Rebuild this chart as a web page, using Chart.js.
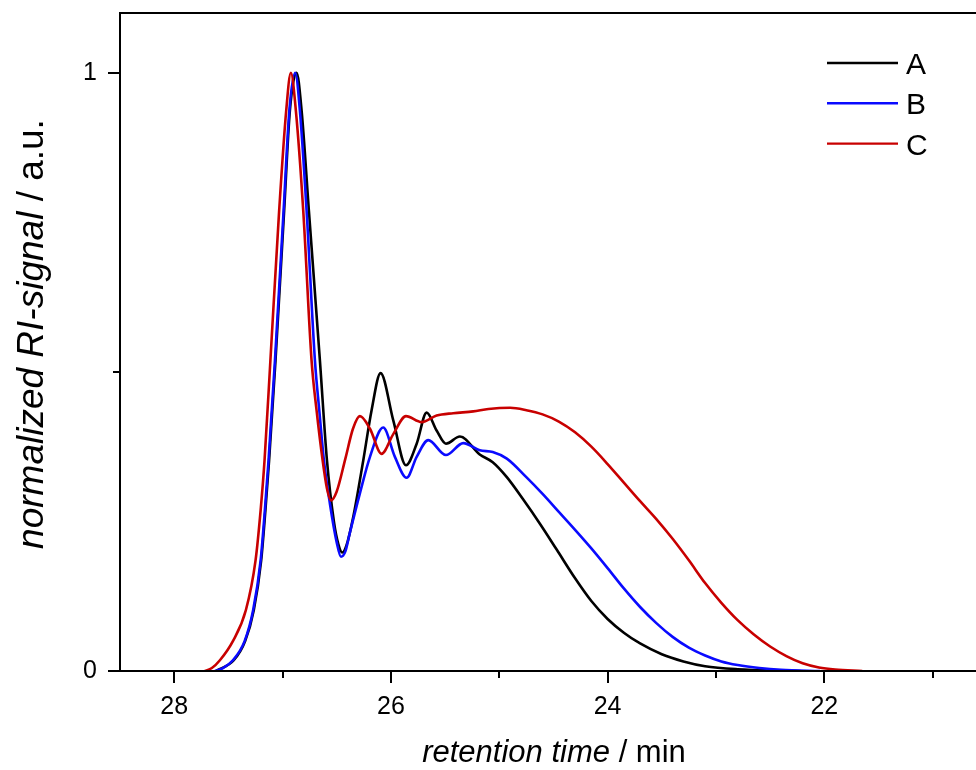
<!DOCTYPE html>
<html>
<head>
<meta charset="utf-8">
<script src="https://cdn.jsdelivr.net/npm/chart.js@4.4.1/dist/chart.umd.min.js"></script>
<style>
  html, body { margin: 0; padding: 0; background: #fff; }
  #chart { display: block; }
</style>
</head>
<body>
<canvas id="chart" width="976" height="770"></canvas>
<script>
// retention time (min) and normalized RI signal
var timeA = [27.615, 27.45, 27.345, 27.265, 27.197, 27.158, 27.124, 27.065, 26.985, 26.932, 26.870, 26.824, 26.757, 26.655, 26.590, 26.526,
  26.485, 26.449, 26.41, 26.347, 26.255, 26.178, 26.095, 25.978, 25.861, 25.762, 25.670, 25.578, 25.492, 25.363, 25.18, 25.06,
  24.93, 24.78, 24.62, 24.47, 24.30, 24.15, 24.00, 23.85, 23.70, 23.50, 23.30, 23.10, 22.80, 22.40, 22.22];
var signalA = [0, 0.018, 0.05, 0.102, 0.185, 0.269, 0.352, 0.519, 0.770, 0.937, 1.0, 0.937, 0.770, 0.519, 0.352, 0.25,
  0.212, 0.198, 0.210, 0.258, 0.352, 0.436, 0.498, 0.419, 0.344, 0.380, 0.432, 0.402, 0.380, 0.392, 0.362, 0.349,
  0.324, 0.287, 0.245, 0.203, 0.155, 0.117, 0.087, 0.064, 0.046, 0.028, 0.016, 0.008, 0.003, 0.0005, 0];

var timeB = [27.623, 27.55, 27.458, 27.35, 27.271, 27.202, 27.163, 27.129, 27.070, 26.990, 26.937, 26.883, 26.840, 26.778, 26.701, 26.661,
  26.618, 26.563, 26.50, 26.461, 26.42, 26.38, 26.286, 26.193, 26.071, 25.963, 25.855, 25.762, 25.655, 25.492, 25.332, 25.18,
  25.06, 24.93, 24.75, 24.60, 24.45, 24.30, 24.15, 24.00, 23.85, 23.70, 23.55, 23.40, 23.25, 23.10, 22.95, 22.80, 22.60, 22.40, 22.04];
var signalB = [0, 0.005, 0.018, 0.05, 0.102, 0.185, 0.269, 0.352, 0.519, 0.770, 0.937, 1.0, 0.937, 0.770, 0.519, 0.436,
  0.352, 0.28, 0.215, 0.191, 0.200, 0.230, 0.297, 0.358, 0.407, 0.358, 0.323, 0.358, 0.386, 0.361, 0.381, 0.369,
  0.366, 0.355, 0.324, 0.296, 0.266, 0.236, 0.205, 0.172, 0.138, 0.107, 0.080, 0.057, 0.039, 0.026, 0.016, 0.010, 0.005, 0.002, 0];

var timeC = [27.717, 27.652, 27.578, 27.458, 27.338, 27.249, 27.202, 27.166, 27.112, 27.031, 26.966, 26.923, 26.877, 26.809, 26.732, 26.686,
  26.630, 26.59, 26.553, 26.50, 26.42, 26.35, 26.286, 26.193, 26.086, 25.978, 25.861, 25.716, 25.578, 25.425, 25.24, 25.10,
  24.90, 24.75, 24.60, 24.45, 24.30, 24.15, 24.00, 23.85, 23.70, 23.55, 23.40, 23.25, 23.10, 22.95, 22.80, 22.65, 22.50, 22.35,
  22.20, 22.05, 21.90, 21.65];
var signalC = [0, 0.005, 0.018, 0.05, 0.102, 0.185, 0.269, 0.352, 0.519, 0.770, 0.937, 1.0, 0.937, 0.770, 0.519, 0.436,
  0.352, 0.305, 0.285, 0.300, 0.355, 0.405, 0.426, 0.405, 0.363, 0.396, 0.426, 0.416, 0.427, 0.431, 0.434, 0.438,
  0.440, 0.436, 0.429, 0.417, 0.399, 0.375, 0.346, 0.315, 0.284, 0.254, 0.221, 0.185, 0.147, 0.114, 0.085, 0.061, 0.041, 0.025,
  0.013, 0.006, 0.0025, 0];

var seriesNames = ['A', 'B', 'C'];
var seriesColors = ['#000000', '#0a0aff', '#c80000'];

var majorTimeTicks = [28, 26, 24, 22];
var minorTimeTicks = [27, 25, 23, 21];
var majorSignalTicks = [0, 1];
var minorSignalTicks = [0.5];

var FONT = "Arial, 'Liberation Sans', sans-serif";

function toPoints(xs, ys) {
  var pts = [];
  for (var i = 0; i < xs.length; i++) pts.push({ x: xs[i], y: ys[i] });
  return pts;
}

// draws a title made of an italic quantity and an upright unit, centred on (0,0)
function mixedTitle(ctx, quantity, unit, size) {
  ctx.font = 'italic ' + size + 'px ' + FONT;
  var w1 = ctx.measureText(quantity).width;
  ctx.font = size + 'px ' + FONT;
  var w2 = ctx.measureText(unit).width;
  var x0 = -(w1 + w2) / 2;
  ctx.font = 'italic ' + size + 'px ' + FONT;
  ctx.fillText(quantity, x0, 0);
  ctx.font = size + 'px ' + FONT;
  ctx.fillText(unit, x0 + w1, 0);
}

// frame, tick marks, axis titles and legend
var decor = {
  id: 'decor',
  afterDraw: function (chart) {
    var ctx = chart.ctx, a = chart.chartArea;
    var xs = chart.scales.x, ys = chart.scales.y;
    ctx.save();
    ctx.strokeStyle = '#000';
    ctx.lineWidth = 2;
    ctx.beginPath();
    ctx.moveTo(a.left, a.top); ctx.lineTo(a.right, a.top);
    ctx.moveTo(a.left, a.top - 1); ctx.lineTo(a.left, a.bottom + 1);
    ctx.moveTo(a.left, a.bottom); ctx.lineTo(a.right, a.bottom);
    xs.ticks.forEach(function (t) {
      var px = Math.round(xs.getPixelForValue(t.value));
      var len = majorTimeTicks.indexOf(t.value) >= 0 ? 12 : 7;
      ctx.moveTo(px, a.bottom); ctx.lineTo(px, a.bottom + len);
    });
    ys.ticks.forEach(function (t) {
      var py = Math.round(ys.getPixelForValue(t.value));
      var len = majorSignalTicks.indexOf(t.value) >= 0 ? 12 : 7;
      ctx.moveTo(a.left, py); ctx.lineTo(a.left - len, py);
    });
    ctx.stroke();

    ctx.fillStyle = '#000';
    ctx.textBaseline = 'alphabetic';
    ctx.textAlign = 'left';

    ctx.save();
    ctx.translate(554, 762);
    mixedTitle(ctx, 'retention time', ' / min', 31);
    ctx.restore();

    ctx.save();
    ctx.translate(43, 334);
    ctx.rotate(-Math.PI / 2);
    mixedTitle(ctx, 'normalized RI-signal', ' / a.u.', 37);
    ctx.restore();

    // legend
    ctx.font = '30px ' + FONT;
    for (var i = 0; i < seriesNames.length; i++) {
      var ly = 63 + i * 40.3;
      ctx.strokeStyle = seriesColors[i];
      ctx.lineWidth = 2.4;
      ctx.beginPath();
      ctx.moveTo(827, ly); ctx.lineTo(898, ly);
      ctx.stroke();
      ctx.fillText(seriesNames[i], 906, ly + 11);
    }
    ctx.restore();
  }
};

var datasets = [
  { label: seriesNames[0], data: toPoints(timeA, signalA), borderColor: seriesColors[0], order: 2 },
  { label: seriesNames[1], data: toPoints(timeB, signalB), borderColor: seriesColors[1], order: 1 },
  { label: seriesNames[2], data: toPoints(timeC, signalC), borderColor: seriesColors[2], order: 0 }
];
datasets.forEach(function (d) {
  d.borderWidth = 2.6;
  d.pointRadius = 0;
  d.fill = false;
  d.cubicInterpolationMode = 'monotone';
});

new Chart(document.getElementById('chart'), {
  type: 'line',
  data: { datasets: datasets },
  options: {
    responsive: false,
    devicePixelRatio: 1,
    animation: false,
    layout: { padding: { top: 13, right: 0, left: 0, bottom: 0 } },
    plugins: { legend: { display: false }, tooltip: { enabled: false } },
    scales: {
      x: {
        type: 'linear',
        reverse: true,
        min: 20.6,
        max: 28.5,
        afterFit: function (s) { s.height = 99; s.paddingLeft = 0; s.paddingRight = 0; },
        afterBuildTicks: function (s) {
          s.ticks = majorTimeTicks.concat(minorTimeTicks).sort(function (p, q) { return q - p; })
            .map(function (v) { return { value: v }; });
        },
        grid: { display: false, drawTicks: false },
        border: { display: false },
        ticks: {
          padding: 21,
          color: '#000',
          font: { family: FONT, size: 25 },
          maxRotation: 0,
          autoSkip: false,
          callback: function (v) { return majorTimeTicks.indexOf(v) >= 0 ? String(v) : ''; }
        }
      },
      y: {
        min: 0,
        max: 1.1,
        afterFit: function (s) { s.width = 120; s.paddingTop = 0; s.paddingBottom = 0; },
        afterBuildTicks: function (s) {
          s.ticks = majorSignalTicks.concat(minorSignalTicks).sort()
            .map(function (v) { return { value: v }; });
        },
        grid: { display: false, drawTicks: false },
        border: { display: false },
        ticks: {
          padding: 23,
          color: '#000',
          font: { family: FONT, size: 25 },
          autoSkip: false,
          callback: function (v) { return majorSignalTicks.indexOf(v) >= 0 ? String(v) : ''; }
        }
      }
    }
  },
  plugins: [decor]
});
</script>
</body>
</html>
